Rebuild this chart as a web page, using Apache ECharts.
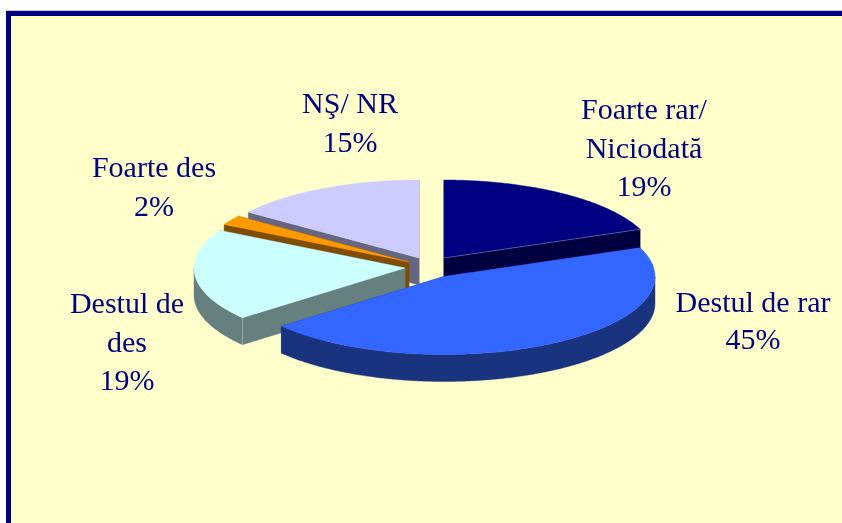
<!DOCTYPE html>
<html>
<head>
<meta charset="utf-8">
<style>html,body{margin:0;padding:0;background:#fff}#c{width:842px;height:523px}</style>
<script src="https://cdn.jsdelivr.net/npm/echarts@6/dist/echarts.min.js"></script>
</head>
<body>
<div id="c"></div>
<script>
// Data, clockwise from 12 o'clock
const categories = ['Foarte rar/\nNiciodată', 'Destul de rar', 'Destul de\ndes', 'Foarte des', 'NŞ/ NR'];
const values = [19, 45, 19, 2, 15];

// Styles
const topColors = ['#000080', '#3366FF', '#CCFFFF', '#FF9900', '#CCCCFF'];
const wallColors = ['#000040', '#19337F', '#668080', '#7F4C00', '#666680'];
const textColor = '#000080';

// Layout: the exploded centre of each slice, and the tilted pie's proportions
const centres = [[444, 258], [444, 276.5], [405, 268], [409, 262], [419, 258]];
const labelAnchors = [[644, 92], [753, 286], [127, 286], [154, 150], [350, 86]];
const labelLineHeights = [38.5, 36.5, 38.5, 38.5, 38.5];
const rx = 211, ry = 78, depth = 27;
const paintOrder = [4, 0, 3, 2, 1];   // back to front

const total = values.reduce((a, b) => a + b, 0);
const startShare = values.map((_, i) => values.slice(0, i).reduce((a, b) => a + b, 0) / total);

function rim(i, ang, dy) {
  return [centres[i][0] + rx * Math.sin(ang), centres[i][1] - ry * Math.cos(ang) + dy];
}
function arcPoints(i, a0, a1, dy) {
  const n = Math.max(2, Math.ceil((a1 - a0) / (Math.PI / 360)));
  const pts = [];
  for (let k = 0; k <= n; k++) pts.push(rim(i, a0 + (a1 - a0) * k / n, dy));
  return pts;
}
function renderSlice(params, api) {
  const i = api.value(0);
  const share = api.value(1) / total;
  const a0 = startShare[i] * 2 * Math.PI;
  const a1 = a0 + share * 2 * Math.PI;
  const c = centres[i];
  const children = [];
  const poly = (points, color) => children.push({
    type: 'polygon', shape: { points },
    style: { fill: color, stroke: color, lineWidth: 0.4 }
  });
  const seam = (p, q) => children.push({
    type: 'line', shape: { x1: p[0], y1: p[1], x2: q[0], y2: q[1] },
    style: { stroke: 'rgba(255,255,255,0.35)', lineWidth: 0.8 }
  });
  [a0, a1].forEach(a => {
    poly([c, rim(i, a, 0), rim(i, a, depth), [c[0], c[1] + depth]], wallColors[i]);
  });
  const f0 = Math.max(a0, Math.PI / 2), f1 = Math.min(a1, 3 * Math.PI / 2);
  if (f1 > f0) {
    poly(arcPoints(i, f0, f1, 0).concat(arcPoints(i, f0, f1, depth).reverse()), wallColors[i]);
  }
  poly([c].concat(arcPoints(i, a0, a1, 0)), topColors[i]);
  if (i === 2) seam(rim(i, a0, 0), rim(i, a0, depth));
  if (i === 0) seam(c, rim(i, a1, 0));
  return { type: 'group', children };
}
function renderLabel(params, api) {
  const i = api.value(0);
  return {
    type: 'text',
    style: {
      x: labelAnchors[i][0], y: labelAnchors[i][1],
      text: categories[i] + '\n' + api.value(1) + '%',
      fill: textColor, align: 'center', verticalAlign: 'top',
      font: '30px "Liberation Serif", "Times New Roman", serif',
      lineHeight: labelLineHeights[i]
    }
  };
}

const chart = echarts.init(document.getElementById('c'), null, { renderer: 'canvas', width: 842, height: 523 });
chart.setOption({
  animation: false,
  backgroundColor: '#ffffff',
  graphic: [
    { type: 'rect', z: -10, shape: { x: 6, y: 10, width: 836, height: 513 }, style: { fill: '#C8C8D8' } },
    { type: 'rect', z: -9, shape: { x: 6, y: 11, width: 836, height: 512 }, style: { fill: '#000080' } },
    { type: 'rect', z: -8, shape: { x: 11, y: 16, width: 831, height: 507 }, style: { fill: '#FFFFCC' } }
  ],
  series: [
    {
      type: 'custom', name: 'slices', coordinateSystem: 'none', silent: true, z: 2,
      data: paintOrder.map(i => [i, values[i]]),
      renderItem: renderSlice
    },
    {
      type: 'custom', name: 'labels', coordinateSystem: 'none', silent: true, z: 3,
      data: values.map((v, i) => [i, v]),
      renderItem: renderLabel
    }
  ]
});
</script>
</body>
</html>
